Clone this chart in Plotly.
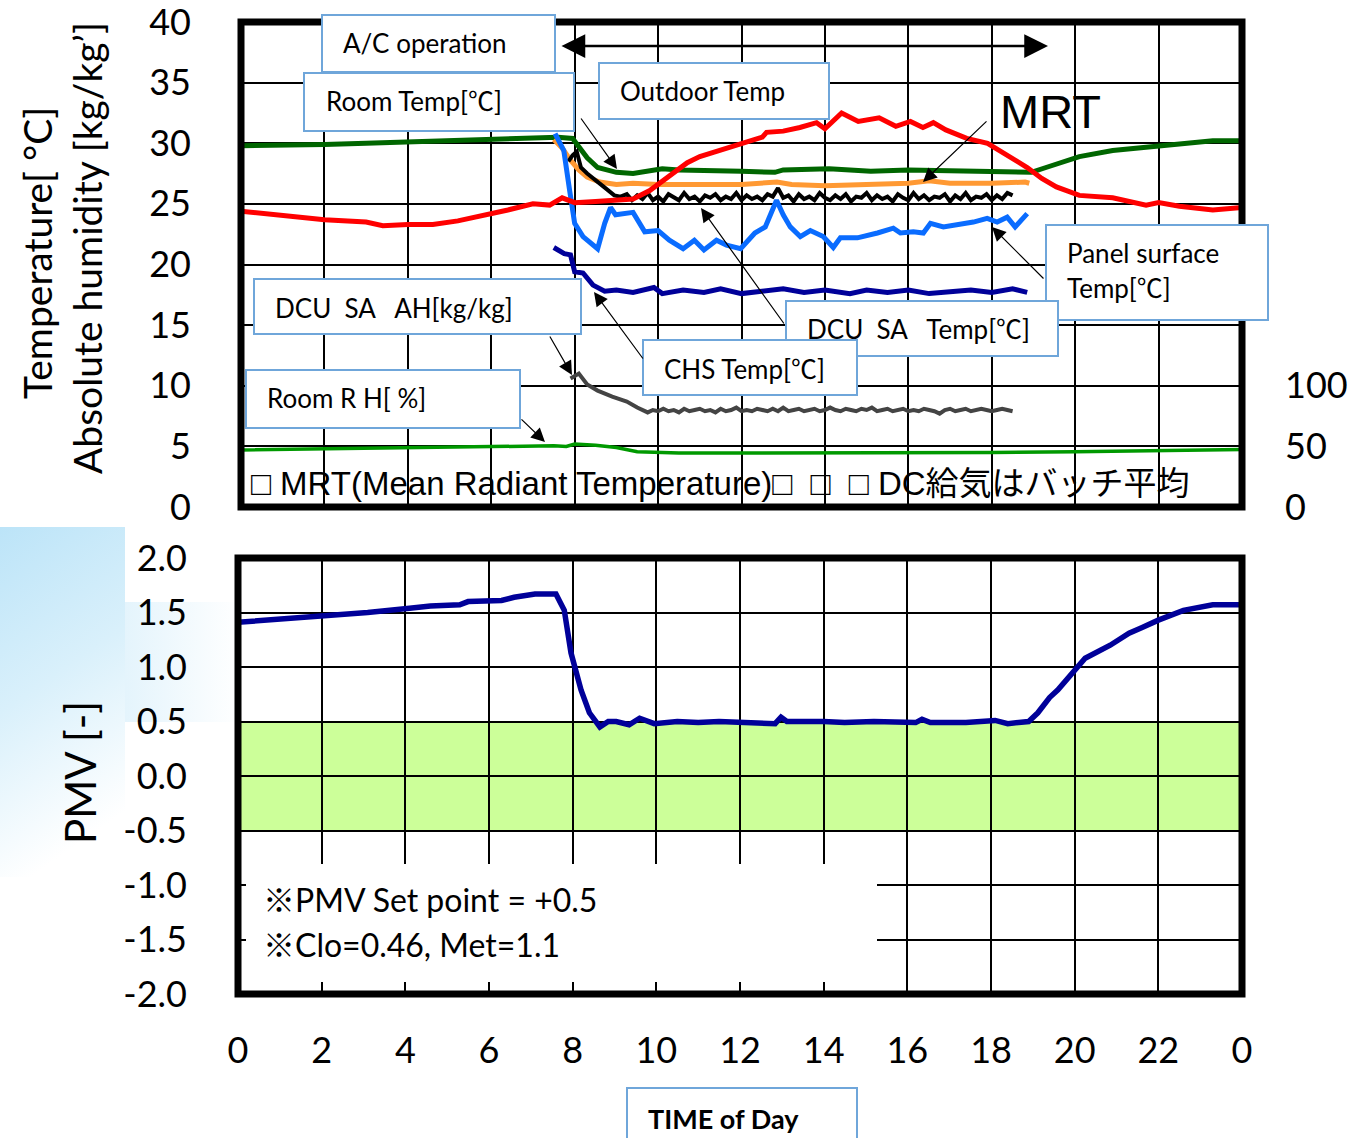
import base64
import plotly.graph_objects as go

W, H = 1355, 1138


def px(x):
    return x / W


def py(y):
    return 1 - y / H


# ---------------- data (hours of day / values) ----------------
outdoor_t = [0.0, 1.0, 2.0, 3.0, 3.4, 4.0, 4.6, 5.2, 5.8, 6.4, 7.0, 7.4, 7.7, 8.0, 8.5, 9.0, 9.4, 9.8,
             10.1, 10.4, 10.7, 11.0, 11.3, 11.6, 12.1, 12.5, 12.6, 13.0, 13.4, 13.8, 14.0, 14.4, 14.8,
             15.3, 15.7, 16.05, 16.35, 16.6, 16.9, 17.4, 17.9, 18.4, 18.85, 19.2, 19.55, 20.1, 20.9,
             21.7, 22.0, 22.5, 23.3, 24.0]
outdoor_v = [24.4, 24.0, 23.7, 23.5, 23.2, 23.3, 23.3, 23.6, 24.0, 24.5, 25.0, 24.9, 25.5, 25.1, 25.2,
             25.3, 25.4, 26.1, 26.9, 27.6, 28.4, 28.9, 29.2, 29.5, 30.1, 30.5, 30.9, 31.0, 31.3, 31.7,
             31.2, 32.5, 31.8, 32.1, 31.4, 31.8, 31.3, 31.7, 31.1, 30.4, 30.0, 28.9, 28.0, 27.1, 26.4,
             25.7, 25.5, 24.9, 25.1, 24.8, 24.5, 24.7]

room_t = [0.0, 1.0, 2.0, 3.0, 4.0, 5.0, 6.0, 7.0, 7.6, 7.95, 8.1, 8.3, 8.55, 9.0, 9.4, 10.1, 10.5,
          11.1, 12.0, 12.8, 13.0, 14.1, 15.1, 16.0, 17.0, 18.0, 18.95, 19.3, 20.1, 20.9, 21.7, 22.5,
          23.3, 24.0]
room_v = [29.8, 29.8, 29.9, 30.0, 30.1, 30.2, 30.3, 30.4, 30.5, 30.4, 29.7, 28.8, 28.0, 27.6, 27.5,
          27.9, 27.8, 27.8, 27.7, 27.6, 27.8, 27.9, 27.7, 27.8, 27.7, 27.7, 27.6, 28.0, 28.9, 29.4,
          29.7, 30.0, 30.2, 30.2]

mrt_t = [7.5, 7.7, 7.9, 8.1, 8.3, 8.6, 9.0, 9.4, 10.0, 11.0, 12.0, 12.85, 13.2, 14.0, 15.0, 16.0,
         16.5, 17.0, 18.0, 18.8, 18.9]
mrt_v = [30.3, 29.6, 28.6, 27.8, 27.2, 26.8, 26.6, 26.7, 26.6, 26.6, 26.6, 26.8, 26.6, 26.5, 26.6,
         26.7, 26.9, 26.7, 26.7, 26.8, 26.7]

dcu_sa_t_start_t = [7.85, 7.95, 8.05, 8.15, 8.3, 8.5, 8.7, 8.95, 9.1]
dcu_sa_t_start_v = [28.5, 29.0, 29.3, 28.0, 27.5, 27.0, 26.4, 25.7, 25.6]
dcu_sa_t_step_start = 9.25
dcu_sa_t_step = 0.125
dcu_sa_t_v = [25.8, 25.3, 25.7, 25.4, 25.9, 25.3, 25.6, 25.2, 25.8, 25.5,
              25.3, 25.9, 25.4, 25.6, 25.2, 25.7, 25.5, 25.8, 25.3, 25.6,
              25.4, 25.9, 25.3, 25.7, 25.4, 25.6, 25.3, 25.8, 25.6, 26.3,
              25.5, 25.7, 25.2, 25.8, 25.4, 25.6, 25.3, 25.9, 25.5, 25.3,
              25.7, 25.4, 25.8, 25.2, 25.6, 25.5, 25.9, 25.3, 25.7, 25.4,
              25.6, 25.2, 25.8, 25.5, 25.3, 25.9, 25.4, 25.7, 25.3, 25.6,
              25.5, 25.8, 25.2, 25.7, 25.4, 25.9, 25.3, 25.6, 25.5, 25.8,
              25.3, 25.7, 25.4, 25.9, 25.7]

panel_t = [7.53, 7.74, 7.88, 8.0, 8.2, 8.55, 8.72, 8.86, 8.98, 9.4, 9.68, 10.0, 10.27, 10.6, 10.87,
           11.1, 11.4, 11.64, 11.98, 12.32, 12.57, 12.84, 13.0, 13.17, 13.41, 13.65, 13.96, 14.2,
           14.37, 14.78, 15.26, 15.64, 15.81, 16.12, 16.36, 16.53, 16.84, 17.25, 17.56, 17.89,
           18.13, 18.37, 18.56, 18.85]
panel_v = [30.8, 29.4, 26.1, 23.4, 22.3, 21.3, 23.4, 24.7, 24.1, 24.3, 22.7, 22.8, 22.0, 21.3, 22.0,
           21.2, 22.0, 21.6, 21.3, 22.6, 23.1, 25.3, 24.1, 23.1, 22.3, 22.8, 22.3, 21.4, 22.2, 22.2,
           22.6, 23.0, 22.6, 22.7, 22.6, 23.4, 23.1, 23.3, 23.5, 23.8, 23.5, 23.9, 23.1, 24.2]

chs_t = [7.5, 7.75, 7.9, 8.0, 8.2, 8.44, 8.72, 9.0, 9.4, 9.9, 10.1, 10.6, 11.1, 11.5, 12.0, 12.6,
         13.0, 13.5, 14.0, 14.6, 15.0, 15.5, 16.0, 16.5, 17.0, 17.5, 18.0, 18.5, 18.85]
chs_v = [21.4, 20.9, 20.8, 19.4, 19.3, 18.3, 17.8, 17.9, 17.7, 18.1, 17.6, 17.9, 17.7, 18.0, 17.6,
         17.9, 18.0, 17.7, 17.9, 17.6, 17.9, 17.7, 17.9, 17.6, 17.8, 17.9, 17.7, 18.0, 17.7]

ah_start_t = [7.9, 8.1, 8.3, 8.55, 8.9, 9.25, 9.5]
ah_start_v = [10.6, 11.0, 10.1, 9.6, 9.1, 8.7, 8.2]
ah_step_start = 9.75
ah_step = 0.125
ah_v = [7.8, 8.0, 7.9, 8.1, 7.9, 8.0, 7.8, 8.1, 7.9, 8.0,
        8.1, 7.9, 8.0, 7.8, 8.1, 7.9, 8.0, 8.2, 7.9, 8.0,
        7.9, 8.1, 8.0, 7.9, 8.1, 7.9, 8.2, 7.9, 8.0, 8.1,
        7.9, 8.0, 8.1, 7.9, 8.0, 8.2, 8.0, 7.9, 8.1, 8.0,
        7.9, 8.1, 8.0, 8.2, 7.9, 8.0, 8.1, 7.9, 8.0, 8.1,
        7.9, 8.0, 7.9, 8.1, 8.0, 7.9, 7.7, 8.0, 8.1, 7.9,
        8.0, 8.1, 7.9, 8.0, 8.1, 8.0, 7.9, 8.0, 8.1, 8.0, 7.9]

rh_t = [0, 2, 4, 6, 7.5, 7.8, 8.0, 8.5, 9.0, 9.5, 10.5, 12, 14, 16, 18, 20, 22, 24]
rh_v = [47, 48, 49, 49.5, 50.5, 50, 52, 51, 49, 45.5, 44.5, 44.5, 44.5, 44.5, 45, 45.5, 46.5, 47.5]

pmv_t = [0.0, 1.15, 2.0, 3.1, 4.1, 4.6, 5.3, 5.5, 6.3, 6.6, 7.1, 7.6, 7.8, 7.96, 8.2, 8.4, 8.65,
         8.85, 9.04, 9.35, 9.6, 9.95, 10.5, 11.0, 11.5, 12.0, 12.84, 12.98, 13.12, 14.0, 14.5,
         15.2, 16.2, 16.35, 16.55, 17.4, 18.1, 18.4, 18.9, 19.12, 19.4, 19.6, 19.9, 20.25, 20.85,
         21.3, 21.6, 22.0, 22.6, 23.3, 24.0]
pmv_v = [1.41, 1.44, 1.46, 1.50, 1.54, 1.56, 1.57, 1.60, 1.61, 1.64, 1.67, 1.67, 1.52, 1.13, 0.79,
         0.58, 0.45, 0.50, 0.50, 0.47, 0.53, 0.48, 0.50, 0.49, 0.50, 0.49, 0.48, 0.54, 0.50, 0.50,
         0.49, 0.50, 0.49, 0.52, 0.49, 0.49, 0.51, 0.48, 0.50, 0.58, 0.72, 0.79, 0.93, 1.08, 1.20,
         1.31, 1.36, 1.43, 1.52, 1.57, 1.57]

x_tickvals = [0, 2, 4, 6, 8, 10, 12, 14, 16, 18, 20, 22, 24]
x_ticktext = ["0", "2", "4", "6", "8", "10", "12", "14", "16", "18", "20", "22", "0"]
temp_ticks = [0, 5, 10, 15, 20, 25, 30, 35, 40]
rh_ticks = [0, 50, 100]
pmv_ticks = [-2.0, -1.5, -1.0, -0.5, 0.0, 0.5, 1.0, 1.5, 2.0]
comfort_band = [-0.5, 0.5]

# ---------------- build series ----------------
dcu_t = dcu_sa_t_start_t + [dcu_sa_t_step_start + i * dcu_sa_t_step for i in range(len(dcu_sa_t_v))]
dcu_v = dcu_sa_t_start_v + dcu_sa_t_v
ah_t = ah_start_t + [ah_step_start + i * ah_step for i in range(len(ah_v))]
ah_all = ah_start_v + ah_v

FONT = "Lato, 'Noto Sans CJK JP', sans-serif"
ARIAL = "'Liberation Sans', Arial, 'Noto Sans CJK JP', sans-serif"

fig = go.Figure()


def line(t, v, color, width, xa="x", ya="y"):
    fig.add_trace(go.Scatter(x=t, y=v, mode="lines", line=dict(color=color, width=width),
                             xaxis=xa, yaxis=ya, showlegend=False, hoverinfo="skip"))


line(rh_t, rh_v, "#009900", 3.5, "x", "y3")
line(ah_t, ah_all, "#444444", 4)
line(chs_t, chs_v, "#000099", 5)
line(room_t, room_v, "#006600", 5)
line(mrt_t, mrt_v, "#FF9933", 5)
line(dcu_t, dcu_v, "#000000", 4)
line(panel_t, panel_v, "#0A6CFF", 5)
line(outdoor_t, outdoor_v, "#FF0000", 5)
line(pmv_t, pmv_v, "#000099", 5.5, "x2", "y2")

grid = dict(showgrid=True, gridcolor="black", gridwidth=1.5, zeroline=False, showline=False,
            automargin=False, ticklabeloverflow="allow")
tickf = dict(family=FONT, size=36, color="black")

fig.update_layout(
    width=W, height=H, autosize=False,
    margin=dict(l=0, r=0, t=0, b=0, pad=0),
    paper_bgcolor="white", plot_bgcolor="white",
    xaxis=dict(domain=[px(241), px(1242)], range=[0, 24], tickvals=x_tickvals,
               showticklabels=False, anchor="y", **grid),
    yaxis=dict(domain=[py(507), py(22)], range=[0, 40], tickvals=temp_ticks,
               ticktext=[str(v) for v in temp_ticks], tickfont=tickf,
               ticklabelstandoff=49, anchor="x", **grid),
    yaxis3=dict(overlaying="y", side="right", range=[0, 400], tickvals=rh_ticks,
                ticktext=[str(v) for v in rh_ticks], tickfont=tickf, showgrid=False,
                zeroline=False, showline=False, ticklabelstandoff=42, anchor="x",
                automargin=False, ticklabeloverflow="allow"),
    xaxis2=dict(domain=[px(238), px(1242)], range=[0, 24], tickvals=x_tickvals,
                ticktext=x_ticktext, tickfont=tickf, ticklabelstandoff=32, anchor="y2", **grid),
    yaxis2=dict(domain=[py(994), py(558)], range=[-2, 2], tickvals=pmv_ticks,
                ticktext=[f"{v:.1f}" for v in pmv_ticks], tickfont=tickf,
                ticklabelstandoff=50, anchor="x2", **grid),
)

shapes = []
# comfort band
shapes.append(dict(type="rect", xref="x2 domain", yref="y2", x0=0, x1=1,
                   y0=comfort_band[0], y1=comfort_band[1], fillcolor="#CCFF99",
                   line=dict(width=0), layer="below"))
# white note box in the PMV chart (hides grid lines behind the notes)
shapes.append(dict(type="rect", xref="paper", yref="paper", x0=px(246), x1=px(877),
                   y0=py(982), y1=py(864), fillcolor="white", line=dict(width=0),
                   layer="above"))
# thick plot borders
for xd, yd in (("x domain", "y domain"), ("x2 domain", "y2 domain")):
    shapes.append(dict(type="rect", xref=xd, yref=yd, x0=0, x1=1, y0=0, y1=1,
                       line=dict(color="black", width=7), fillcolor="rgba(0,0,0,0)",
                       layer="above"))

# label boxes (left, top, right, bottom in reference pixels)
boxes = [
    (322, 15, 555, 72),
    (304, 73, 574, 131),
    (599, 63, 829, 119),
    (1046, 225, 1268, 320),
    (786, 301, 1058, 356),
    (643, 340, 857, 395),
    (254, 279, 581, 334),
    (246, 370, 520, 428),
    (627, 1088, 857, 1150),
]
for l, t, r, b in boxes:
    shapes.append(dict(type="rect", xref="paper", yref="paper", x0=px(l), x1=px(r),
                       y0=py(b), y1=py(t), fillcolor="white",
                       line=dict(color="#6FA6DA", width=2), layer="above"))
fig.update_layout(shapes=shapes)

ann = []


def text(x, y, s, size=26, family=FONT, anchor="left", angle=0, bold=False):
    if bold:
        s = f"<b>{s}</b>"
    ann.append(dict(x=px(x), y=py(y), xref="paper", yref="paper", text=s, showarrow=False,
                    xanchor=anchor, yanchor="middle", textangle=angle, borderpad=0,
                    font=dict(family=family, size=size, color="black")))


NB = "\u00a0"
text(342, 43, "A/C operation")
text(325, 101, "Room Temp[℃]")
text(619, 91, "Outdoor Temp")
text(1066, 253, "Panel surface")
text(1066, 288, "Temp[℃]")
text(806, 329, f"DCU{NB}{NB}SA{NB}{NB}{NB}Temp[℃]")
text(663, 369, "CHS Temp[℃]")
text(274, 308, f"DCU{NB}{NB}SA{NB}{NB}{NB}AH[kg/kg]")
text(266, 398, f"Room R H[{NB}%]")
text(647, 1118, "TIME of Day", size=27, bold=True)
text(999, 112, "MRT", size=47, family=ARIAL)
text(250, 483, f"□ MRT(Mean Radiant Temperature)□{NB}{NB}□{NB}{NB}□ DC給気はバッチ平均",
     size=33, family=ARIAL)
text(262, 899, "※PMV Set point = +0.5", size=32)
text(262, 944, "※Clo=0.46, Met=1.1", size=32)
text(37, 253, "Temperature[ °C]", size=39, anchor="center", angle=-90)
text(87, 248, "Absolute humidity [kg/kg’]", size=39, anchor="center", angle=-90)
text(80, 773, "PMV [-]", size=42, anchor="center", angle=-90)


def arrow(tail, head, width=1.2, size=2.3, both=False):
    d = dict(x=px(head[0]), y=py(head[1]), xref="paper", yref="paper",
             ax=tail[0] - head[0], ay=tail[1] - head[1], axref="pixel", ayref="pixel",
             showarrow=True, text="", arrowhead=2, arrowsize=size, arrowwidth=width,
             arrowcolor="black", standoff=0, startstandoff=0)
    if both:
        d.update(arrowside="end+start", startarrowhead=2, startarrowsize=size)
    ann.append(d)


arrow((560, 46), (1048, 46), width=2.5, size=1.9, both=True)
arrow((580, 117), (617, 169))
arrow((988, 120), (923, 182))
arrow((1045, 280), (992, 227))
arrow((785, 325), (701, 208))
arrow((644, 360), (594, 292))
arrow((549, 335), (572, 375))
arrow((520, 418), (545, 442))

fig.update_layout(annotations=ann)

# faint slide background at the lower left
svg = (
    '<svg xmlns="http://www.w3.org/2000/svg" width="240" height="350" viewBox="0 0 240 350">'
    '<defs><linearGradient id="g" x1="0" y1="0" x2="0.25" y2="1">'
    '<stop offset="0" stop-color="#BCE4F8"/><stop offset="0.5" stop-color="#D9F0FB"/>'
    '<stop offset="1" stop-color="#FFFFFF"/></linearGradient>'
    '<linearGradient id="h" x1="0" y1="0" x2="1" y2="0">'
    '<stop offset="0" stop-color="#E4F4FC"/><stop offset="1" stop-color="#FFFFFF"/></linearGradient></defs>'
    '<rect x="125" y="75" width="115" height="120" fill="url(#h)"/>'
    '<rect x="0" y="0" width="125" height="350" fill="url(#g)"/>'
    '</svg>'
)
src = "data:image/svg+xml;base64," + base64.b64encode(svg.encode()).decode()
fig.update_layout(images=[dict(source=src, xref="paper", yref="paper", x=px(0), y=py(527),
                               sizex=240 / W, sizey=350 / H, xanchor="left", yanchor="top",
                               sizing="stretch", layer="below")])

# remove the default 8 px page margin so the figure sits at the window's top-left corner
fig.write_html("out.html", config={"displayModeBar": False},
               post_script="document.body.style.margin='0';")
